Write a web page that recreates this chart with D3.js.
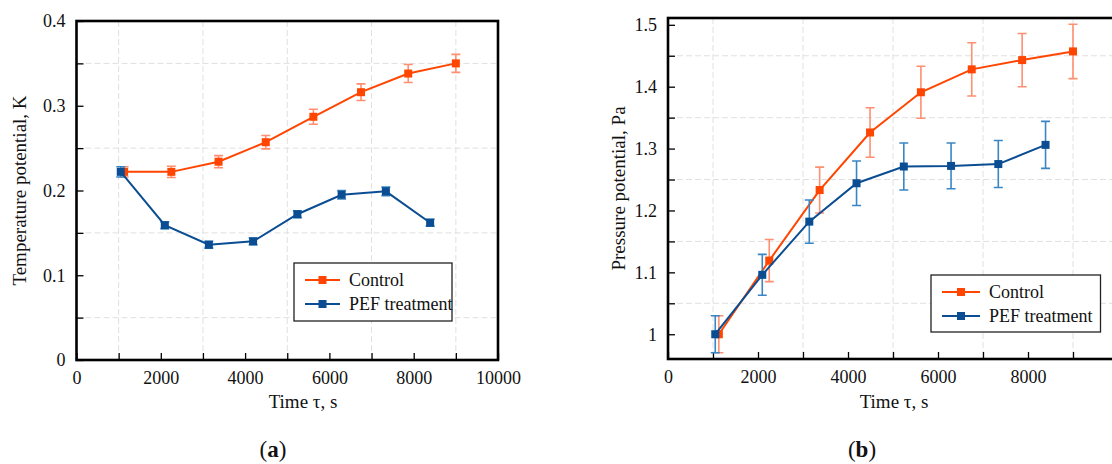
<!DOCTYPE html>
<html>
<head>
<meta charset="utf-8">
<script src="https://cdn.jsdelivr.net/npm/d3@7"></script>
<style>
  body { margin: 0; background: #fff; }
  svg text { font-family: "Liberation Serif", "Times New Roman", serif !important; fill: #111; }
</style>
</head>
<body>
<script>
// time points (s) for each series
var timesControl = [1130, 2250, 3370, 4490, 5620, 6750, 7870, 9000];
var timesPEF = [1050, 2095, 3140, 4190, 5240, 6290, 7340, 8390];

// (a) temperature potential, K
var tempControl = [0.222, 0.222, 0.234, 0.257, 0.287, 0.316, 0.338, 0.350];
var tempControlErr = [0.006, 0.0067, 0.0071, 0.0079, 0.0088, 0.0098, 0.0106, 0.0106];
var tempPEF = [0.222, 0.159, 0.136, 0.140, 0.172, 0.195, 0.199, 0.162];
var tempPEFErr = [0.006, 0.004, 0.004, 0.004, 0.004, 0.005, 0.005, 0.004];

// (b) pressure potential, Pa
var presControl = [1.000, 1.119, 1.233, 1.326, 1.391, 1.428, 1.443, 1.457];
var presControlErr = [0.030, 0.034, 0.037, 0.040, 0.042, 0.043, 0.043, 0.044];
var presPEF = [1.000, 1.096, 1.182, 1.244, 1.271, 1.272, 1.275, 1.306];
var presPEFErr = [0.030, 0.033, 0.035, 0.036, 0.038, 0.037, 0.038, 0.038];

var seriesNames = ["Control", "PEF treatment"];
var timeTicksA = [0, 2000, 4000, 6000, 8000, 10000];
var timeTicksB = [0, 2000, 4000, 6000, 8000]; // 10000 falls outside the cropped figure
var tempTicks = [0, 0.1, 0.2, 0.3, 0.4];
var presTicks = [1, 1.1, 1.2, 1.3, 1.4, 1.5];

var colors = ["#ff4500", "#0b4d92"];
var errColors = ["#ff8f70", "#3a86c4"];

var svg = d3.select("body").append("svg")
    .attr("width", 1112)
    .attr("height", 464);

// panel (a)
drawPanel({
    left: 76.5, right: 498, top: 21, bottom: 360,
    xDomain: [0, 10000], yDomain: [0, 0.4],
    xTicks: timeTicksA, yTicks: tempTicks, yMinorStep: 0.05,
    yTitle: "Temperature potential, K", yTitleX: 19,
    xTitleX: 303, labelX: 273, letter: "a",
    series: [
        {t: timesControl, v: tempControl, e: tempControlErr},
        {t: timesPEF, v: tempPEF, e: tempPEFErr}
    ],
    legend: {x: 294, y: 263, w: 158, h: 58, rows: [280, 304], lineX: [305, 340], textX: 349}
});

// panel (b) -- right edge of the frame is cut off in the original
drawPanel({
    left: 668, right: 1118, top: 18, bottom: 359,
    xDomain: [0, 10000], yDomain: [0.96, 1.511],
    xTicks: timeTicksB, yTicks: presTicks, yMinorStep: 0.05,
    yTitle: "Pressure potential, Pa", yTitleX: 618,
    xTitleX: 894, labelX: 862, letter: "b",
    series: [
        {t: timesControl, v: presControl, e: presControlErr},
        {t: timesPEF, v: presPEF, e: presPEFErr}
    ],
    legend: {x: 931, y: 275, w: 169.5, h: 57, rows: [292, 316], lineX: [942, 980], textX: 989}
});

function drawPanel(cfg){
    var x = d3.scaleLinear().domain(cfg.xDomain).range([cfg.left, cfg.right]);
    var y = d3.scaleLinear().domain(cfg.yDomain).range([cfg.bottom, cfg.top]);
    var g = svg.append("g");

    // grid sits on the minor (odd) positions
    var xGrid = d3.range(1000, 10001, 2000);
    var yMinor = d3.range(cfg.yTicks[0] - cfg.yMinorStep, cfg.yDomain[1] + 1e-9, cfg.yMinorStep)
        .filter(function(v){ return v > cfg.yDomain[0] && v < cfg.yDomain[1]; });
    var yGrid = yMinor.filter(function(v){
        return !cfg.yTicks.some(function(t){ return Math.abs(t - v) < 1e-6; });
    });

    g.selectAll(".vgrid").data(xGrid).enter().append("line")
        .attr("x1", function(d){ return x(d); }).attr("x2", function(d){ return x(d); })
        .attr("y1", cfg.top).attr("y2", cfg.bottom)
        .attr("stroke", "#e0e0e0").attr("stroke-width", 1).attr("stroke-dasharray", "6,3");
    g.selectAll(".hgrid").data(yGrid).enter().append("line")
        .attr("x1", cfg.left).attr("x2", cfg.right)
        .attr("y1", function(d){ return y(d); }).attr("y2", function(d){ return y(d); })
        .attr("stroke", "#e0e0e0").attr("stroke-width", 1).attr("stroke-dasharray", "6,3");

    // axes with inward ticks
    var xAxis = d3.axisBottom(x).tickValues(cfg.xTicks).tickSize(-7).tickPadding(11)
        .tickFormat(d3.format("d"));
    var xMinor = d3.axisBottom(x).tickValues(xGrid).tickSize(-7).tickFormat("");
    var yAxis = d3.axisLeft(y).tickValues(cfg.yTicks).tickSize(-7).tickPadding(11)
        .tickFormat(d3.format("~g"));
    var yMinorAx = d3.axisLeft(y).tickValues(yGrid).tickSize(-7).tickFormat("");

    [xAxis, xMinor].forEach(function(ax){
        g.append("g").attr("transform", "translate(0," + cfg.bottom + ")").call(ax);
    });
    [yAxis, yMinorAx].forEach(function(ax){
        g.append("g").attr("transform", "translate(" + cfg.left + ",0)").call(ax);
    });
    g.selectAll(".domain").remove();
    g.selectAll(".tick line").attr("stroke", "#000").attr("stroke-width", 1.3);
    g.selectAll(".tick text").attr("font-size", 18);

    // frame
    g.append("rect")
        .attr("x", cfg.left).attr("y", cfg.top)
        .attr("width", cfg.right - cfg.left).attr("height", cfg.bottom - cfg.top)
        .attr("fill", "none").attr("stroke", "#000").attr("stroke-width", 2.6);

    // series
    var line = d3.line().x(function(d){ return x(d.t); }).y(function(d){ return y(d.v); });
    cfg.series.forEach(function(s, i){
        var pts = s.t.map(function(t, k){ return {t: t, v: s.v[k], e: s.e[k]}; });
        var sg = g.append("g");
        sg.selectAll(".err").data(pts).enter().append("path")
            .attr("d", function(d){
                var cx = x(d.t), y0 = y(d.v - d.e), y1 = y(d.v + d.e), c = 4.5;
                return "M" + cx + "," + y0 + "V" + y1 +
                    "M" + (cx - c) + "," + y0 + "H" + (cx + c) +
                    "M" + (cx - c) + "," + y1 + "H" + (cx + c);
            })
            .attr("fill", "none").attr("stroke", errColors[i]).attr("stroke-width", 1.6);
        sg.append("path").datum(pts)
            .attr("d", line).attr("fill", "none")
            .attr("stroke", colors[i]).attr("stroke-width", 2);
        sg.selectAll(".mk").data(pts).enter().append("rect")
            .attr("x", function(d){ return x(d.t) - 4; })
            .attr("y", function(d){ return y(d.v) - 4; })
            .attr("width", 8).attr("height", 8)
            .attr("fill", colors[i]);
    });

    // legend
    var L = cfg.legend;
    var lg = g.append("g");
    lg.append("rect").attr("x", L.x).attr("y", L.y).attr("width", L.w).attr("height", L.h)
        .attr("fill", "#fff").attr("stroke", "#222").attr("stroke-width", 1.3);
    seriesNames.forEach(function(name, i){
        var ry = L.rows[i];
        lg.append("line").attr("x1", L.lineX[0]).attr("x2", L.lineX[1])
            .attr("y1", ry).attr("y2", ry).attr("stroke", colors[i]).attr("stroke-width", 2);
        lg.append("rect").attr("x", (L.lineX[0] + L.lineX[1]) / 2 - 4).attr("y", ry - 4)
            .attr("width", 8).attr("height", 8).attr("fill", colors[i]);
        lg.append("text").attr("x", L.textX).attr("y", ry + 6)
            .attr("font-size", 18).text(name);
    });

    // axis titles
    g.append("text")
        .attr("transform", "translate(" + cfg.yTitleX + "," + ((cfg.top + cfg.bottom) / 2) + ") rotate(-90)")
        .attr("text-anchor", "middle").attr("dy", "0.35em")
        .attr("font-size", 19)
        .text(cfg.yTitle);
    g.append("text")
        .attr("x", cfg.xTitleX).attr("y", 408)
        .attr("text-anchor", "middle").attr("font-size", 19)
        .text("Time \u03c4, s");

    // panel label
    var lab = g.append("text")
        .attr("x", cfg.labelX).attr("y", 457)
        .attr("text-anchor", "middle").attr("font-size", 23);
    lab.append("tspan").text("(");
    lab.append("tspan").attr("font-weight", "bold").text(cfg.letter);
    lab.append("tspan").text(")");
}
</script>
</body>
</html>
